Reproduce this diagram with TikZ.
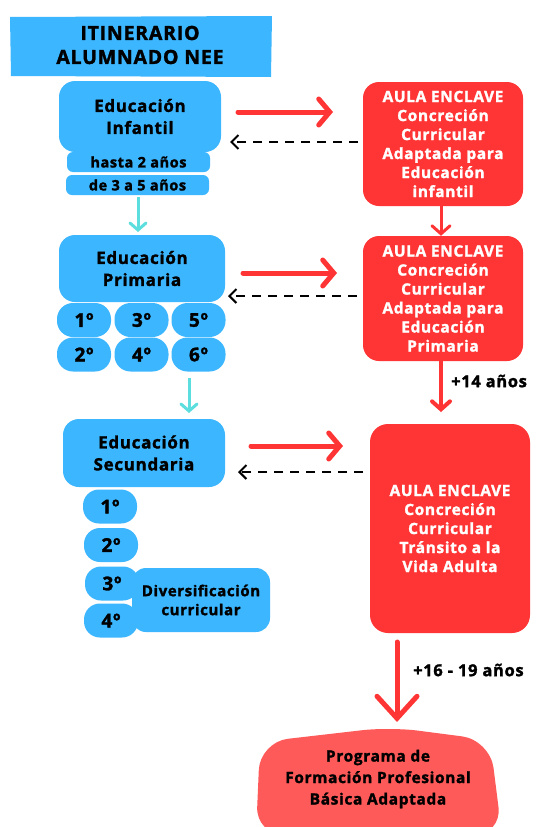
\documentclass[tikz,border=0pt]{standalone}
\usepackage{fontspec}
\setmainfont{Open Sans}[BoldFeatures={FakeBold=1.6, LetterSpace=4}]
\usetikzlibrary{arrows.meta}
\definecolor{nblue}{RGB}{60,182,255}
\definecolor{nred}{RGB}{255,52,52}
\definecolor{blobred}{RGB}{255,90,90}
\definecolor{ncyan}{RGB}{92,222,222}
\tikzset{
  bluebox/.style={fill=nblue, rounded corners=16pt, inner sep=0pt, align=center, font=\bfseries\fontsize{17}{22}\selectfont},
  smallbar/.style={fill=nblue, rounded corners=6pt, inner sep=0pt, align=center, font=\bfseries\fontsize{14.5}{15}\selectfont},
  oval/.style={fill=nblue, rounded corners=16pt, inner sep=0pt, minimum width=54pt, minimum height=34pt, font=\bfseries\fontsize{19}{20}\selectfont},
  redbox/.style={fill=nred, rounded corners=16pt, inner sep=0pt, minimum width=160pt, align=center, text=white, font=\bfseries\fontsize{15.5}{19}\selectfont},
  bigred/.style={draw=nred, line width=5pt, line cap=round, -{Straight Barb[length=11pt, width=26pt, line cap=round]}},
  thinred/.style={draw=nred, line width=3pt, line cap=round, -{Straight Barb[length=8pt, width=18pt, line cap=round]}},
  backdash/.style={draw=black, line width=2pt, dash pattern=on 9pt off 7pt, -{Straight Barb[length=7pt, width=14pt]}},
  cyanarr/.style={draw=ncyan, line width=3pt, -{Straight Barb[length=7pt, width=16pt, line cap=round]}},
  agelabel/.style={anchor=west, inner sep=0pt, font=\bfseries\fontsize{16.5}{18}\selectfont}
}
\begin{document}
\begin{tikzpicture}[x=1pt,y=-1pt]
\useasboundingbox (0,0) rectangle (537,827);
\fill[white] (0,0) rectangle (537,827);

% title
\fill[nblue] (10,17) -- (272,16) -- (271,77) -- (11,76) -- cycle;
\node[align=center, font=\bfseries\fontsize{19.5}{24}\selectfont] (title) at (140,45) {ITINERARIO\\ALUMNADO NEE};

% Infantil
\node[bluebox, minimum width=162pt, minimum height=71pt] (inf) at (140,116.5) {Educación\\Infantil};
\node[smallbar, minimum width=143pt, minimum height=20pt] (inf1) at (138.5,162) {hasta 2 años};
\node[smallbar, minimum width=143pt, minimum height=20pt] (inf2) at (137.5,185) {de 3 a 5 años};

% Primaria
\node[bluebox, minimum width=166pt, minimum height=67pt] (pri) at (142,268.5) {Educación\\Primaria};
\node[oval] (p1) at (84,320) {1º};
\node[oval] (p3) at (141.5,320) {3º};
\node[oval] (p5) at (198.5,320) {5º};
\node[oval] (p2) at (84,354.5) {2º};
\node[oval] (p4) at (141.5,354.5) {4º};
\node[oval] (p6) at (198.5,354.5) {6º};

% Secundaria
\node[bluebox, minimum width=162pt, minimum height=68pt] (sec) at (144,453) {Educación\\Secundaria};
\node[bluebox, rounded corners=14pt, minimum width=138pt, minimum height=64pt, font=\bfseries\fontsize{15}{19}\selectfont] (div) at (201,600) {Diversificación\\curricular};
\node[oval] (s1) at (110,506.5) {1º};
\node[oval] (s2) at (111,545) {2º};
\node[oval] (s3) at (112,583.5) {3º};
\node[oval] (s4) at (111,620.5) {4º};

% red boxes
\node[redbox, minimum height=124pt] (r1) at (443,144) {AULA ENCLAVE\\Concreción\\Curricular\\Adaptada para\\Educación\\infantil};
\node[redbox, minimum height=125pt] (r2) at (443,298.5) {AULA ENCLAVE\\Concreción\\Curricular\\Adaptada para\\Educación\\Primaria};
\node[redbox, rounded corners=18pt, minimum height=209pt] (r3) at (450,528.5) {AULA ENCLAVE\\Concreción\\Curricular\\Tránsito a la\\Vida Adulta};

% bottom blob
\fill[blobred, rounded corners=28pt] (260,742) -- (390,727) -- (490,740) -- (502,835) -- (256,835) -- cycle;
\node[align=center, font=\bfseries\fontsize{15.5}{21.5}\selectfont] (fp) at (378,779) {Programa de\\Formación Profesional\\Básica Adaptada};

% coordinates for floating arrows
\coordinate (a1s) at (238,112); \coordinate (a1e) at (333,112);
\coordinate (d1s) at (358,142); \coordinate (d1e) at (230,142);
\coordinate (a2s) at (243,273); \coordinate (a2e) at (337,273);
\coordinate (d2s) at (357,296); \coordinate (d2e) at (228,296);
\coordinate (a3s) at (251,446); \coordinate (a3e) at (343,446);
\coordinate (d3s) at (363,472); \coordinate (d3e) at (238,472);
\coordinate (c1s) at (138,197); \coordinate (c1e) at (138,232);
\coordinate (c2s) at (189,378); \coordinate (c2e) at (189,413);
\coordinate (v2e) at (441,412);
\coordinate (v3s) at (397,642); \coordinate (v3e) at (397,722);

\draw[bigred] (a1s) -- (a1e);
\draw[bigred] (a2s) -- (a2e);
\draw[bigred] (a3s) -- (a3e);
\draw[backdash] (d1s) -- (d1e);
\draw[backdash] (d2s) -- (d2e);
\draw[backdash] (d3s) -- (d3e);
\draw[cyanarr] (c1s) -- (c1e);
\draw[cyanarr] (c2s) -- (c2e);
\draw[thinred] (r1.south -| 441,0) -- (r2.north -| 441,0);
\draw[thinred, line width=4pt] (r2.south -| 441,0) -- (v2e);
\draw[bigred, -{Straight Barb[length=22pt, width=40pt, line cap=round]}] (v3s) -- (v3e);

\node[agelabel] (l14) at (451,381) {+14 años};
\node[agelabel] (l16) at (413,670) {+16 - 19 años};
\end{tikzpicture}
\end{document}
